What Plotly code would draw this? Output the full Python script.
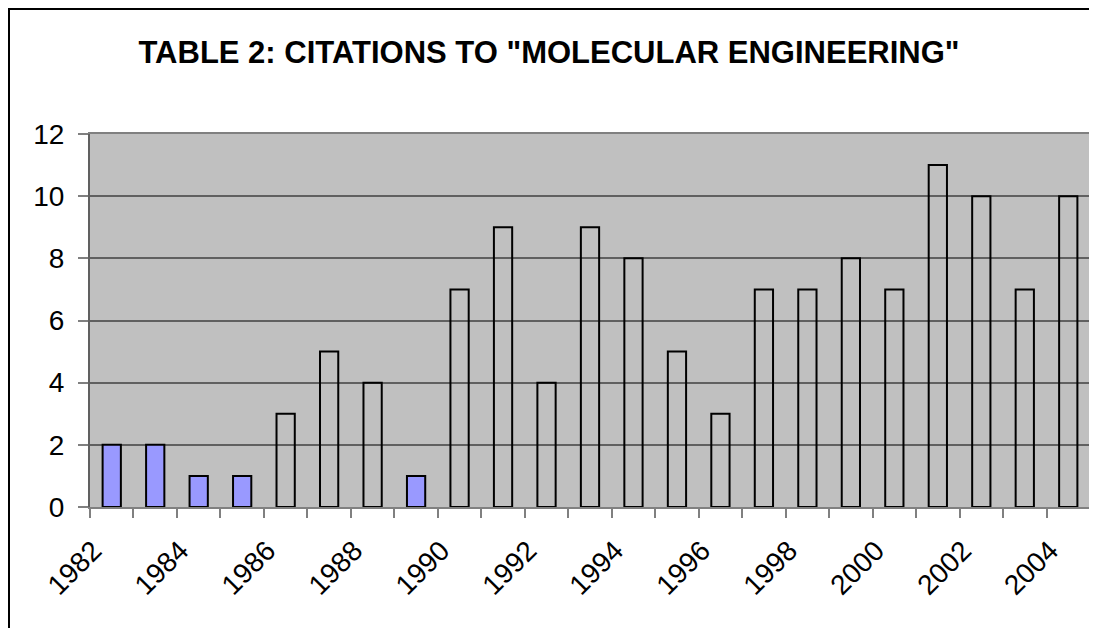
import plotly.graph_objects as go

years = list(range(1982, 2005))
citations = [2, 2, 1, 1, 3, 5, 4, 1, 7, 9, 4, 9, 8, 5, 3, 7, 7, 8, 7, 11, 10, 7, 10]
highlight_years = [1982, 1983, 1984, 1985, 1989]
title_text = 'TABLE 2: CITATIONS TO "MOLECULAR ENGINEERING"'
label_years = list(range(1982, 2005, 2))

colors = ["#9999FF" if y in highlight_years else "rgba(0,0,0,0)" for y in years]

fig = go.Figure(go.Bar(
    x=years, y=citations,
    marker=dict(color=colors, line=dict(color="black", width=2)),
    width=0.42,
))

# page has an ~8px body margin, so figure coords = screenshot coords - 7
W, H = 1097, 628
L, R, T, B = 82, 15, 126, 129
pw = W - L - R
ph = H - T - B

font = "Liberation Sans, Arial, sans-serif"
label_shift = 0.42  # rotated labels end a little left of the category centre

fig.update_layout(
    width=W, height=H,
    margin=dict(l=L, r=R, t=T, b=B),
    paper_bgcolor="white",
    plot_bgcolor="#C0C0C0",
    showlegend=False,
    font=dict(family=font, color="black", size=28),
    title=dict(text="<b>" + title_text + "</b>", x=(548 - 7) / W, xref="container",
               xanchor="center", y=1 - 44 / H, yref="container", yanchor="middle",
               font=dict(size=31, family=font, color="black")),
    xaxis=dict(
        range=[1981.5, 2004.5],
        tickmode="array", tickvals=[y - label_shift for y in label_years],
        ticktext=[str(y) for y in label_years],
        tickangle=-45, ticks="", showgrid=False, zeroline=False,
        showline=True, linecolor="#808080", linewidth=2, mirror=True,
        ticklabelstandoff=14,
        tickfont=dict(size=28, family=font, color="black"),
        minor=dict(tickvals=[y + 0.5 for y in range(1981, 2005)], ticks="outside",
                   ticklen=9, tickcolor="#808080", tickwidth=2, showgrid=False),
    ),
    yaxis=dict(
        range=[0, 12], dtick=2, tick0=0,
        ticks="outside", ticklen=10, tickcolor="#808080", tickwidth=2,
        showgrid=True, gridcolor="#606060", gridwidth=2,
        zeroline=False, showline=True, linecolor="#606060", linewidth=2, mirror=True,
        ticklabelstandoff=8,
        tickfont=dict(size=28, family=font, color="black"),
    ),
    shapes=[dict(
        type="rect", xref="paper", yref="paper",
        x0=(1 - L) / pw, x1=(W + 20 - L) / pw,
        y0=-(H + 20 - (T + ph)) / ph, y1=(T + ph - 1) / ph,
        line=dict(color="black", width=2), fillcolor="rgba(0,0,0,0)", layer="above",
    )],
)

fig.write_html("out.html")
